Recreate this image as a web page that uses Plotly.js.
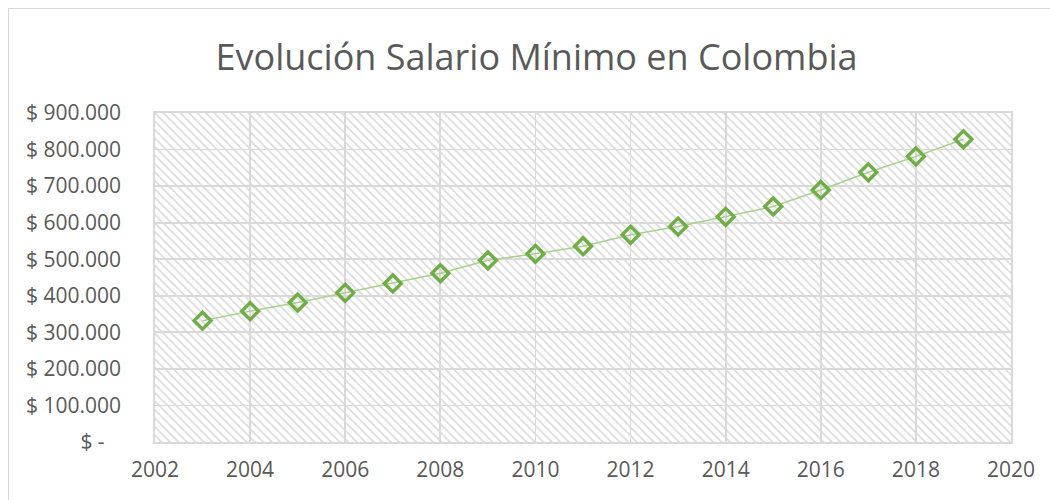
<!DOCTYPE html>
<html>
<head>
<meta charset="utf-8">
<script src="https://cdn.plot.ly/plotly-3.0.1.min.js"></script>
<style>
  body { margin: 0; padding: 0; background: #fff; }
  #wrap { position: relative; width: 1050px; height: 500px; overflow: hidden; }
  #chart { width: 1050px; height: 500px; }
  #frame { position: absolute; left: 8px; top: 8px; width: 1100px; height: 600px; border: 1px solid #d9d9d9; pointer-events: none; box-sizing: border-box; }
</style>
</head>
<body>
<div id="wrap">
  <div id="chart"></div>
  <div id="frame"></div>
</div>
<script>
const chartTitle = "Evolución Salario Mínimo en Colombia";
const years = [2003, 2004, 2005, 2006, 2007, 2008, 2009, 2010, 2011, 2012, 2013, 2014, 2015, 2016, 2017, 2018, 2019];
const salario = [332000, 358000, 381500, 408000, 433700, 461500, 496900, 515000, 535600, 566700, 589500, 616000, 644350, 689455, 737717, 781242, 828116];
const yTickVals = [0, 100000, 200000, 300000, 400000, 500000, 600000, 700000, 800000, 900000];
const yTickText = ["$ -\u00a0\u00a0\u00a0", "$ 100.000", "$ 200.000", "$ 300.000", "$ 400.000", "$ 500.000", "$ 600.000", "$ 700.000", "$ 800.000", "$ 900.000"];
const xTickVals = [2002, 2004, 2006, 2008, 2010, 2012, 2014, 2016, 2018, 2020];
const xRange = [2002, 2020];
const yRange = [0, 900000];

const font = "Open Sans, Noto Sans, sans-serif";

const bg = {
  x: [xRange[0], xRange[1], xRange[1], xRange[0], xRange[0]],
  y: [yRange[0], yRange[0], yRange[1], yRange[1], yRange[0]],
  type: 'scatter', mode: 'none', fill: 'toself',
  fillcolor: 'rgba(0,0,0,0)',
  fillpattern: { shape: '\\', fgcolor: '#dadada', bgcolor: 'rgba(0,0,0,0)', size: 6, solidity: 0.28 },
  hoverinfo: 'skip', showlegend: false
};

const line = {
  x: years, y: salario, type: 'scatter', mode: 'lines+markers',
  line: { color: '#a9d18e', width: 1.5 },
  marker: { symbol: 'diamond-open', size: 13, color: '#70ad47', line: { color: '#70ad47', width: 3.4 } },
  showlegend: false
};

const layout = {
  width: 1050, height: 500,
  margin: { l: 155, r: 39, t: 113, b: 58 },
  paper_bgcolor: '#ffffff', plot_bgcolor: '#ffffff',
  title: { text: chartTitle, font: { family: font, size: 36, color: '#595959' }, xref: 'container', x: 0.511, xanchor: 'center', yref: 'container', y: 0.886, yanchor: 'middle' },
  xaxis: {
    range: xRange, tickvals: xTickVals, ticks: '', showgrid: true, gridcolor: '#d9d9d9', gridwidth: 1.8,
    zeroline: false, showline: true, linecolor: '#d9d9d9', linewidth: 1.8, mirror: true,
    tickfont: { family: font, size: 21, color: '#595959' }, ticklabelstandoff: 8
  },
  yaxis: {
    range: yRange, tickvals: yTickVals, ticktext: yTickText, ticks: '', showgrid: true, gridcolor: '#d9d9d9', gridwidth: 1.8,
    zeroline: false, showline: true, linecolor: '#d9d9d9', linewidth: 1.8, mirror: true,
    tickfont: { family: font, size: 21, color: '#595959' }, ticklabelstandoff: 28
  }
};

Plotly.newPlot('chart', [bg, line], layout, { displayModeBar: false, staticPlot: true });
</script>
</body>
</html>
